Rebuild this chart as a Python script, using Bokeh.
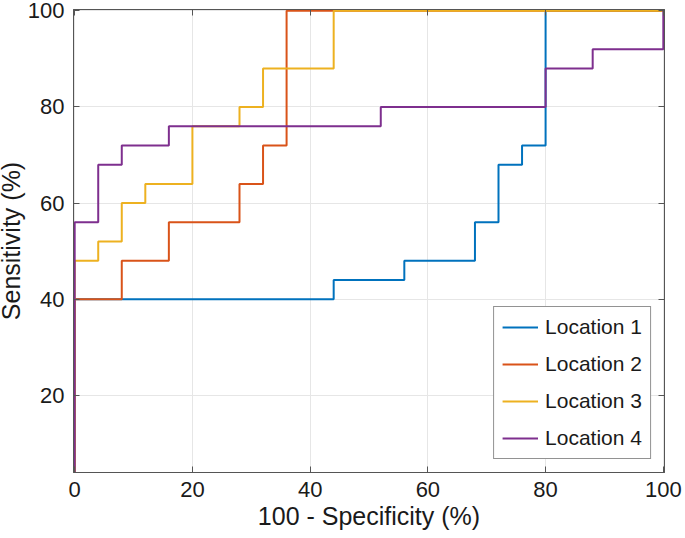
from bokeh.plotting import figure
from bokeh.models import Range1d, FixedTicker, LinearAxis
from bokeh.embed import file_html
from bokeh.resources import INLINE

# ROC curve vertices (100 - specificity, sensitivity), step "after"
loc1_x = [0, 0, 44, 56, 68, 72, 76, 80, 100]
loc1_y = [0, 40, 44, 48, 56, 68, 72, 100, 100]
loc2_x = [0, 0, 8, 16, 28, 32, 36, 100]
loc2_y = [0, 40, 48, 56, 64, 72, 100, 100]
loc3_x = [0, 0, 4, 8, 12, 20, 28, 32, 44, 100]
loc3_y = [0, 48, 52, 60, 64, 76, 80, 88, 100, 100]
loc4_x = [0, 0, 4, 8, 16, 52, 80, 88, 100, 100]
loc4_y = [0, 56, 68, 72, 76, 80, 88, 92, 92, 100]

names = ["Location 1", "Location 2", "Location 3", "Location 4"]
colors = ["#0072BD", "#D95319", "#EDB120", "#7E2F8E"]
x_ticks = [0, 20, 40, 60, 80, 100]
y_ticks = [20, 40, 60, 80, 100]

font = "Liberation Sans"
axis_col = "#555555"

# small padding so the 2px lines on the box edges are not half clipped
p = figure(width=693, height=546, output_backend="svg", toolbar_location=None,
           tools="", x_range=Range1d(-0.2, 100.2), y_range=Range1d(4, 100.25),
           min_border_left=81, min_border_right=21, min_border_top=17,
           min_border_bottom=66)
p.margin = (-8, -8, -8, -8)
p.outline_line_color = axis_col
p.outline_line_width = 1
p.background_fill_color = "white"
p.border_fill_color = "white"

for xs, ys, nm, c in zip([loc1_x, loc2_x, loc3_x, loc4_x],
                         [loc1_y, loc2_y, loc3_y, loc4_y], names, colors):
    p.step(xs, ys, mode="after", line_width=2, color=c, legend_label=nm)

p.xaxis.ticker = FixedTicker(ticks=x_ticks)
p.yaxis.ticker = FixedTicker(ticks=y_ticks)
p.xgrid.ticker = FixedTicker(ticks=x_ticks)
p.ygrid.ticker = FixedTicker(ticks=y_ticks)
p.xgrid.grid_line_color = "#e6e6e6"
p.ygrid.grid_line_color = "#e6e6e6"

p.xaxis.axis_label = "100 - Specificity (%)"
p.yaxis.axis_label = "Sensitivity (%)"
for ax in [p.xaxis[0], p.yaxis[0]]:
    ax.axis_line_color = axis_col
    ax.major_tick_line_color = axis_col
    ax.major_tick_in = 6
    ax.major_tick_out = 0
    ax.minor_tick_line_color = None
    ax.major_label_text_font = font
    ax.major_label_text_font_size = "22px"
    ax.major_label_text_color = "#1a1a1a"
    ax.axis_label_text_font = font
    ax.axis_label_text_font_size = "25px"
    ax.axis_label_text_font_style = "normal"
    ax.axis_label_text_color = "#1a1a1a"
p.xaxis.major_label_standoff = 9
p.yaxis.major_label_standoff = 9
p.xaxis.axis_label_standoff = 2
p.yaxis.axis_label_standoff = 0

# box: ticks on top and right, labels not drawn
for side, tk in [("above", x_ticks), ("right", y_ticks)]:
    ax = LinearAxis(ticker=FixedTicker(ticks=tk))
    ax.axis_line_color = axis_col
    ax.major_tick_line_color = axis_col
    ax.major_tick_in = 6
    ax.major_tick_out = 0
    ax.minor_tick_line_color = None
    ax.major_label_text_color = None
    ax.major_label_text_font_size = "1px"
    ax.major_label_standoff = 0
    p.add_layout(ax, side)

p.legend.location = "bottom_right"
p.legend.margin = 13
p.legend.padding = 8
p.legend.spacing = 13
p.legend.glyph_width = 36
p.legend.glyph_height = 20
p.legend.label_height = 20
p.legend.label_standoff = 7
p.legend.label_text_font = font
p.legend.label_text_font_size = "21px"
p.legend.label_text_color = "#1a1a1a"
p.legend.border_line_color = "#262626"
p.legend.border_line_width = 1
p.legend.background_fill_alpha = 1.0

open("out.html", "w").write(file_html(p, INLINE))
